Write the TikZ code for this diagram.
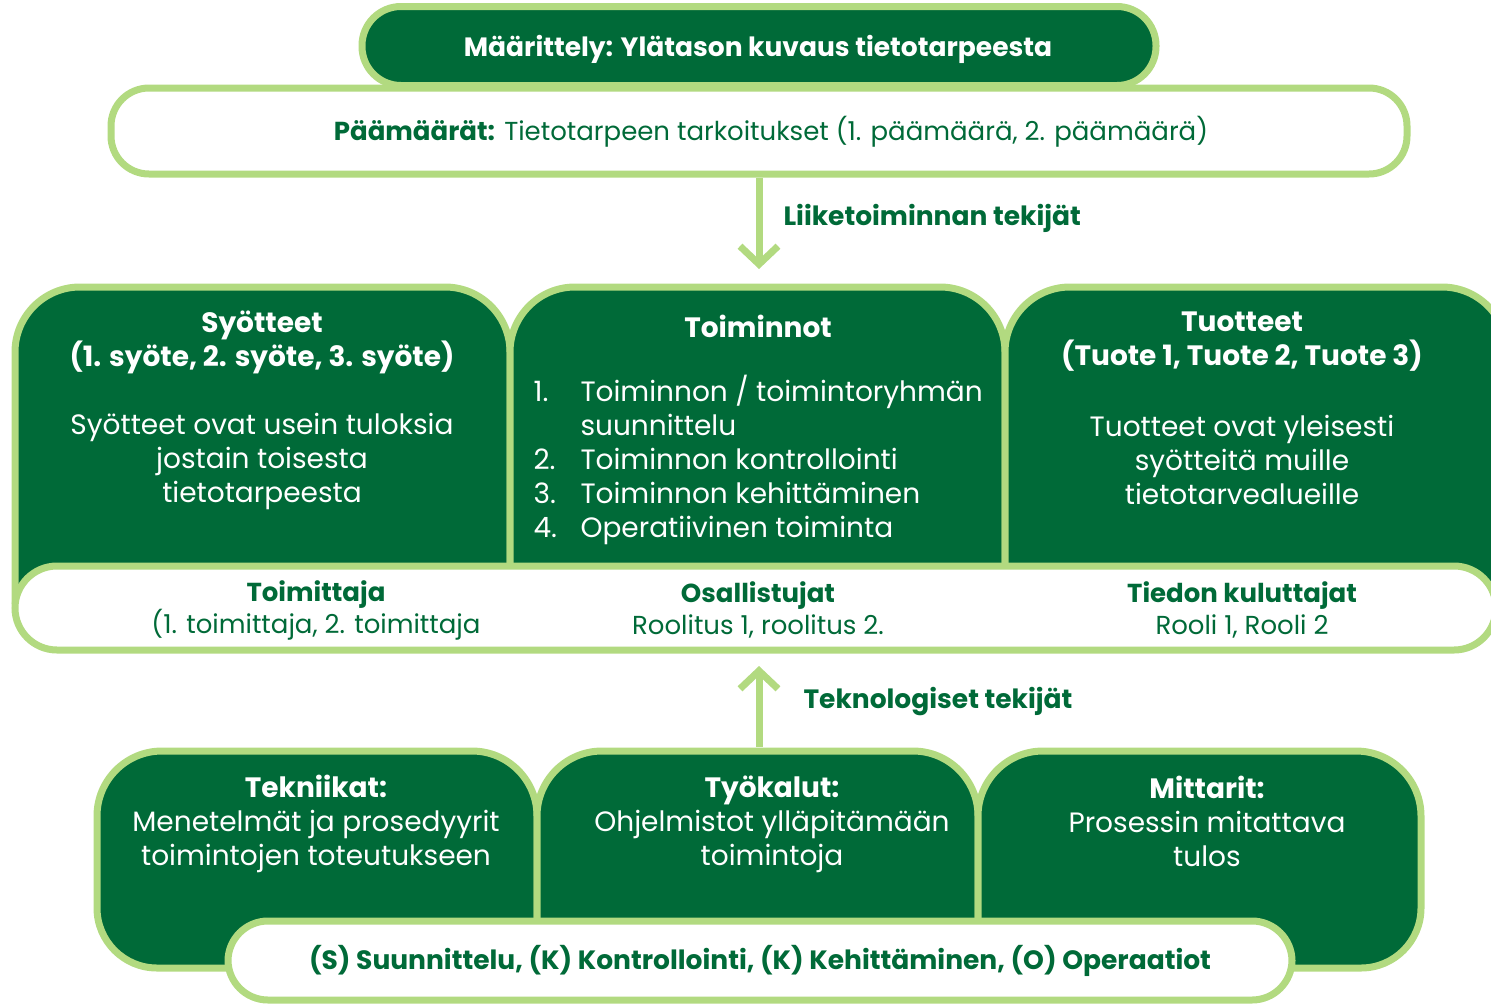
\documentclass[tikz,border=0pt]{standalone}
\usepackage{fontspec}
\setmainfont{Poppins}
\usetikzlibrary{arrows.meta}
\definecolor{dg}{RGB}{0,106,56}
\definecolor{lg}{RGB}{178,218,128}
\begin{document}
\begin{tikzpicture}[x=1pt,y=1pt,
  gbox/.style={draw=lg, line width=7pt, fill=dg},
  wbox/.style={draw=lg, line width=7pt, fill=white},
  ttl/.style={text=white, align=center, font=\bfseries\fontsize{28}{34}\selectfont},
  bdy/.style={text=white, align=center, font=\fontsize{28}{34}\selectfont},
  lst/.style={text=white, anchor=base west, font=\fontsize{28}{34}\selectfont},
  wtx/.style={text=dg, align=center, font=\fontsize{26}{32}\selectfont},
  lbl/.style={text=dg, anchor=west, font=\bfseries\fontsize{26.5}{30}\selectfont},
  arr/.style={draw=lg, line width=7pt, -{Straight Barb[length=18pt,width=38pt]}}
]
\useasboundingbox (0,0) rectangle (1491,-1005);

% ---------- top ----------
\node[wbox, rounded corners=38, minimum width=1296pt, minimum height=86pt, inner sep=0pt] (goalbox) at (759,-131) {};
\node[text=dg, font=\fontsize{26}{30}\selectfont] (goal) at (771,-132) {\textbf{Päämäärät:} Tietotarpeen tarkoitukset (1. päämäärä, 2. päämäärä)};
\node[gbox, rounded corners=39, minimum width=794pt, minimum height=79pt, inner sep=0pt] (def) at (759,-46) {};
\node[text=white, font=\bfseries\fontsize{26.5}{30}\selectfont] (deftxt) at (758,-49) {Määrittely: Ylätason kuvaus tietotarpeesta};

% ---------- middle row ----------
\path[gbox] (15,-600) -- (15,-352) arc[start angle=180,end angle=90,radius=65] -- (445,-287) arc[start angle=90,end angle=0,radius=65] -- (510,-600) -- cycle;
\path[gbox] (510,-600) -- (510,-352) arc[start angle=180,end angle=90,radius=65] -- (940,-287) arc[start angle=90,end angle=0,radius=65] -- (1005,-600) -- cycle;
\path[gbox] (1005,-600) -- (1005,-352) arc[start angle=180,end angle=90,radius=65] -- (1442,-287) arc[start angle=90,end angle=0,radius=65] -- (1507,-600) -- cycle;
\node[wbox, rounded corners=42, minimum width=1481pt, minimum height=84pt, inner sep=0pt] (rolebar) at (755.5,-608) {};

\coordinate (midtop) at (759,-269);
\draw[arr] (goalbox.south) -- (midtop);
\node[lbl] (l1) at (780,-218) {Liiketoiminnan tekijät};

\node[ttl] (syo1) at (262,-342) {Syötteet\\(1. syöte, 2. syöte, 3. syöte)};
\node[bdy] (syo2) at (262,-461) {Syötteet ovat usein tuloksia\\jostain toisesta\\tietotarpeesta};

\node[ttl] (toi) at (758,-326) {Toiminnot};
\node[lst] (n1) at (530,-401) {1.};
\node[lst] (t1) at (577,-401) {Toiminnon / toimintoryhmän};
\node[lst] (t1b) at (577,-435) {suunnittelu};
\node[lst] (n2) at (530,-469) {2.};
\node[lst] (t2) at (577,-469) {Toiminnon kontrollointi};
\node[lst] (n3) at (530,-503) {3.};
\node[lst] (t3) at (577,-503) {Toiminnon kehittäminen};
\node[lst] (n4) at (530,-537) {4.};
\node[lst] (t4) at (577,-537) {Operatiivinen toiminta};

\node[ttl] (tuo1) at (1242,-342) {Tuotteet\\(Tuote 1, Tuote 2, Tuote 3)};
\node[bdy] (tuo2) at (1242,-460) {Tuotteet ovat yleisesti\\syötteitä muille\\tietotarvealueille};

\node[wtx] (r1) at (316,-610) {\textbf{Toimittaja}\\(1. toimittaja, 2. toimittaja};
\node[wtx] (r2) at (758,-610) {\textbf{Osallistujat}\\Roolitus 1, roolitus 2.};
\node[wtx] (r3) at (1242,-610) {\textbf{Tiedon kuluttajat}\\Rooli 1, Rooli 2};

% ---------- bottom row ----------
\path[gbox] (537,-968) -- (537,-816) arc[start angle=0,end angle=90,radius=65] -- (162,-751) arc[start angle=90,end angle=180,radius=65] -- (97,-908) arc[start angle=180,end angle=270,radius=60] -- cycle;
\path[gbox] (537,-940) -- (537,-816) arc[start angle=180,end angle=90,radius=65] -- (913,-751) arc[start angle=90,end angle=0,radius=65] -- (978,-940) -- cycle;
\path[gbox] (978,-968) -- (978,-816) arc[start angle=180,end angle=90,radius=65] -- (1356,-751) arc[start angle=90,end angle=0,radius=65] -- (1421,-908) arc[start angle=0,end angle=-90,radius=60] -- cycle;
\node[wbox, rounded corners=40, minimum width=1064pt, minimum height=79pt, inner sep=0pt] (sbar) at (760,-960.5) {};

\coordinate (botmid) at (759,-747);
\coordinate (uptip) at (759,-666);
\draw[arr] (botmid) -- (uptip);
\node[lbl] (l2) at (800,-702) {Teknologiset tekijät};

\node[bdy] (tek) at (316,-824) {\textbf{Tekniikat:}\\Menetelmät ja prosedyyrit\\toimintojen toteutukseen};
\node[bdy] (tyo) at (772,-824) {\textbf{Työkalut:}\\Ohjelmistot ylläpitämään\\toimintoja};
\node[bdy] (mit) at (1207,-821) {\textbf{Mittarit:}\\Prosessin mitattava\\tulos};

\node[text=dg, font=\bfseries\fontsize{26.5}{30}\selectfont] (skko) at (760,-961) {(S) Suunnittelu, (K) Kontrollointi, (K) Kehittäminen, (O) Operaatiot};
\end{tikzpicture}
\end{document}
